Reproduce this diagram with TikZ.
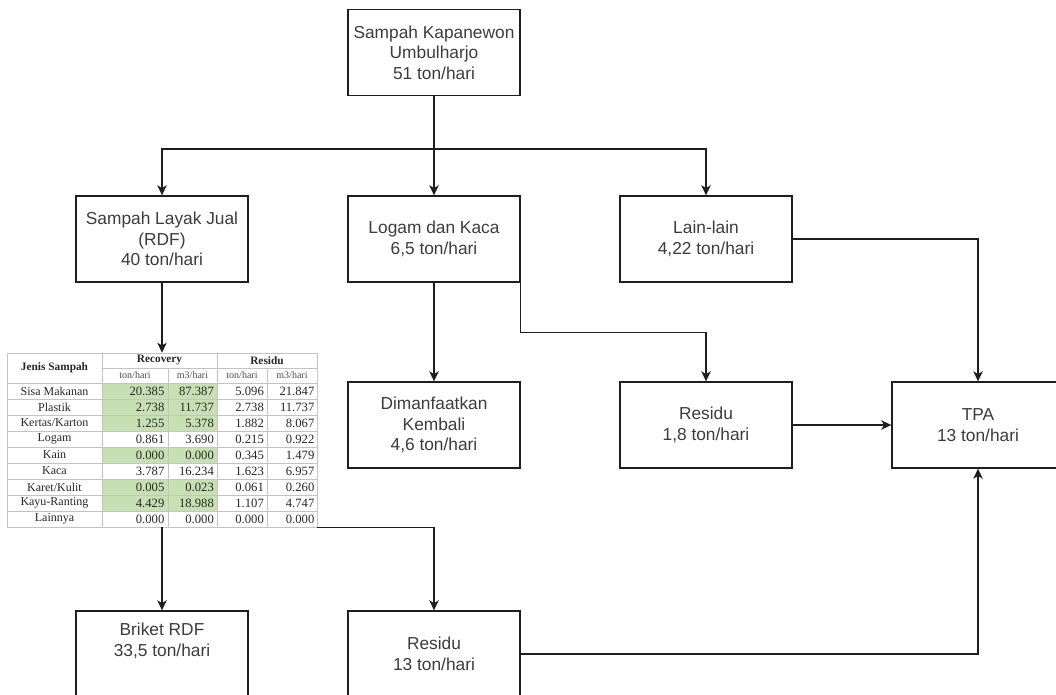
\documentclass[tikz,border=0pt]{standalone}
\usepackage{fontspec}
\setmainfont{Liberation Sans}
\newfontfamily\tabelfont{Liberation Serif}
\usetikzlibrary{arrows.meta}
\definecolor{teksabu}{RGB}{60,60,60}
\definecolor{garis}{RGB}{30,30,30}
\definecolor{hijau}{RGB}{198,224,180}
\definecolor{kisi}{RGB}{195,195,195}

\begin{document}
\begin{tikzpicture}[
  x=0.75pt, y=-0.75pt,
  kotak/.style={draw=garis,line width=1pt,align=center,text=teksabu,
    minimum width=129pt,minimum height=64.5pt,inner sep=2pt,
    font=\fontsize{13}{15.5}\selectfont},
  teks/.style={align=center,text=teksabu,inner sep=0pt,
    font=\fontsize{13}{15.5}\selectfont},
  flow/.style={-{Stealth[length=7.5pt,width=7pt,inset=2pt]},draw=garis,line width=1pt},
  sel/.style={font=\tabelfont\fontsize{9}{10}\selectfont,inner sep=1pt,text=black!85},
  angka/.style={font=\tabelfont\fontsize{9.5}{10}\selectfont,inner sep=1pt,text=black!85,anchor=east},
  judul/.style={font=\tabelfont\bfseries\fontsize{8.5}{10}\selectfont,inner sep=1pt,text=black!85},
  sub/.style={font=\tabelfont\fontsize{7.5}{8}\selectfont,inner sep=1pt,text=black!70},
  kisi/.style={draw=kisi,line width=0.4pt}
]
\clip (0,0) rectangle (1056,695);

\node[kotak] (umbul) at (434,52.5)
  {Sampah Kapanewon\\Umbulharjo\\51 ton/hari};

\node[kotak] (rdf) at (162,239)
  {Sampah Layak Jual\\(RDF)\\40 ton/hari};
\node[kotak] (logam) at (434,239)
  {Logam dan Kaca\\6,5 ton/hari};
\node[kotak] (lain) at (706,239)
  {Lain-lain\\4,22 ton/hari};

\node[kotak] (manfaat) at (434,425)
  {Dimanfaatkan\\Kembali\\4,6 ton/hari};
\node[kotak] (residu1) at (706,425)
  {Residu\\1,8 ton/hari};
\node[kotak] (tpa) at (978,425)
  {TPA\\13 ton/hari};

\node[kotak,label={[name=briket-teks,teks,yshift=10pt]center:{Briket RDF\\33,5 ton/hari}}]
  (briket) at (162,654) {};
\node[kotak] (residu2) at (434,654)
  {Residu\\13 ton/hari};

% tabel komposisi
\node[inner sep=0pt,minimum width=232.5pt,minimum height=130.5pt] (tabel) at (162,440) {};
\node[judul] (h-jenis) at (54.5,368) {Jenis Sampah};
\node[judul] (h-rec) at (159.5,360.5) {Recovery};
\node[judul] (h-res) at (267,360.5) {Residu};
\node[sub] (h-t1) at (135,375.5) {ton/hari};
\node[sub] (h-m1) at (192.5,375.5) {m3/hari};
\node[sub] (h-t2) at (242,375.5) {ton/hari};
\node[sub] (h-m2) at (292,375.5) {m3/hari};
\foreach \nama/\ta/\ma/\tb/\mb/\hj [count=\i] in {
  Sisa Makanan/20.385/87.387/5.096/21.847/1,
  Plastik/2.738/11.737/2.738/11.737/1,
  {Kertas/Karton}/1.255/5.378/1.882/8.067/1,
  Logam/0.861/3.690/0.215/0.922/0,
  Kain/0.000/0.000/0.345/1.479/1,
  Kaca/3.787/16.234/1.623/6.957/0,
  {Karet/Kulit}/0.005/0.023/0.061/0.260/1,
  Kayu-Ranting/4.429/18.988/1.107/4.747/1,
  Lainnya/0.000/0.000/0.000/0.000/0}
{
  \pgfmathsetmacro\ya{367+16*\i}
  \ifnum\hj=1 \fill[hijau] (102,\ya) rectangle (217,\ya+16); \fi
  \node[sel] (jenis-\i) at (54.5,\ya+8) {\nama};
  \node[angka] (ta-\i) at (166,\ya+8) {\ta};
  \node[angka] (ma-\i) at (215.5,\ya+8) {\ma};
  \node[angka] (tb-\i) at (265.5,\ya+8) {\tb};
  \node[angka] (mb-\i) at (316,\ya+8) {\mb};
  \draw[kisi] (7,\ya) -- (317,\ya);
}
\draw[kisi] (7,353) rectangle (317,527);
\draw[kisi] (102,368) -- (317,368);
\draw[kisi] (102,353) -- (102,527);
\draw[kisi] (217,353) -- (217,527);
\draw[kisi] (168,368) -- (168,527);
\draw[kisi] (267,368) -- (267,527);

\draw[flow] (umbul.south) -- ++(0,53) -| (rdf.north);
\draw[flow] (umbul.south) -- (logam.north);
\draw[flow] (umbul.south) -- ++(0,53) -| (lain.north);
\draw[flow] (rdf.south) -- (tabel.north);
\draw[flow] (logam.south) -- (manfaat.north);
\draw[flow] (logam.south east) -- ++(0,50) -| (residu1.north);
\draw[flow] (lain.east) -| (tpa.north);
\draw[flow] (residu1.east) -- (tpa.west);
\draw[flow] (tabel.south) -- (briket.north);
\draw[flow] (tabel.south east) -| (residu2.north);
\draw[flow] (residu2.east) -| (tpa.south);
\end{tikzpicture}
\end{document}
